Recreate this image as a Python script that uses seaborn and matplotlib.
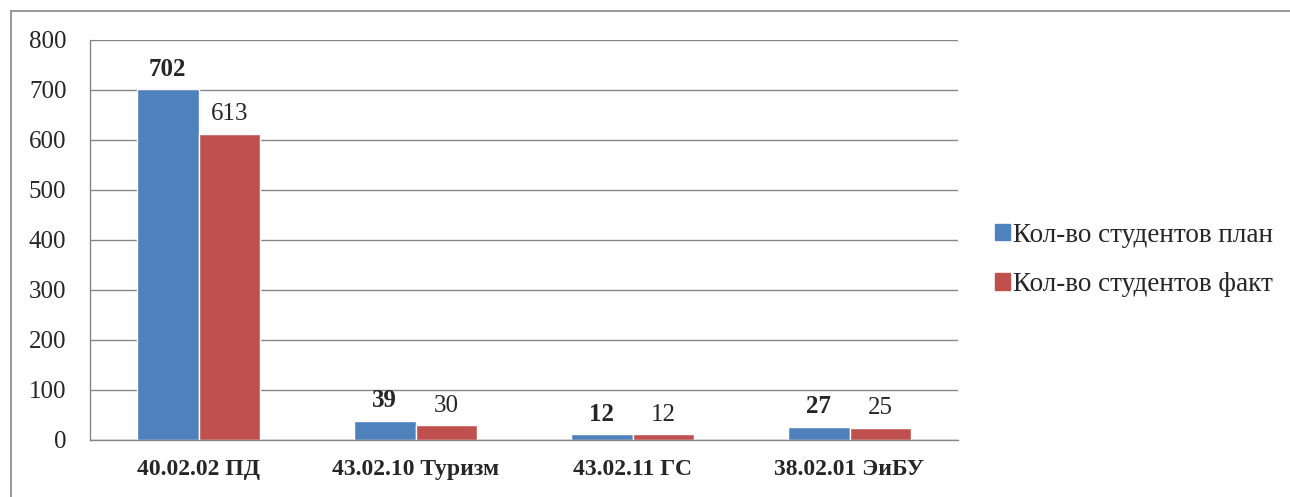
import matplotlib
matplotlib.use("Agg")
import matplotlib.pyplot as plt
import seaborn as sns
import pandas as pd
from matplotlib.patches import Rectangle
from matplotlib.lines import Line2D

# ----------------- DATA -----------------
categories = ["40.02.02 ПД", "43.02.10 Туризм", "43.02.11 ГС", "38.02.01 ЭиБУ"]
plan = [702, 39, 12, 27]
fact = [613, 30, 12, 25]
series = ["Кол-во студентов план", "Кол-во студентов факт"]

df = pd.DataFrame({
    "cat": categories * 2,
    "value": plan + fact,
    "series": [series[0]] * len(plan) + [series[1]] * len(fact),
})

# ----------------- STYLE -----------------
sns.set_style("white")
plt.rcParams["font.family"] = ["Liberation Serif", "DejaVu Serif"]
colors = ["#4F81BD", "#C0504D"]
grid_col = "#868686"

fig = plt.figure(figsize=(12.9, 4.97), dpi=100)
ax = fig.add_axes([90 / 1290, 1 - 440 / 497, (958 - 90) / 1290, 400 / 497])

sns.barplot(data=df, x="cat", y="value", hue="series", palette=colors,
            width=0.567, saturation=1, ax=ax, legend=False)

ax.set_ylim(0, 800)
ax.set_xlim(-0.5, len(categories) - 0.5)
ax.set_yticks(range(0, 801, 100))
ax.yaxis.grid(True, color=grid_col, linewidth=1)
ax.set_axisbelow(True)
ax.set_xlabel("")
ax.set_ylabel("")

for s in ["top", "right"]:
    ax.spines[s].set_visible(False)
for s in ["left", "bottom"]:
    ax.spines[s].set_color(grid_col)
    ax.spines[s].set_linewidth(1)

ax.tick_params(axis="y", length=6, color=grid_col, labelsize=18, pad=11)
ax.set_xticks([i - 0.5 for i in range(len(categories) + 1)], minor=True)
ax.tick_params(axis="x", which="minor", length=6, color=grid_col)
ax.tick_params(axis="x", which="major", length=0, labelsize=17, pad=14)
for lbl in ax.get_xticklabels():
    lbl.set_fontweight("bold")

# value labels
for i, cont in enumerate(ax.containers):
    ax.bar_label(cont, padding=6, fontsize=18,
                 fontweight="bold" if i == 0 else "normal")

# legend
handles = [Rectangle((0, 0), 1, 1, color=c) for c in colors]
fig.legend(handles, series, loc="center left", bbox_to_anchor=(995 / 1290, 1 - 260 / 497),
           frameon=False, fontsize=19.5, handlelength=0.55, handleheight=0.55,
           handletextpad=0.12, labelspacing=0.9, borderaxespad=0, borderpad=0)

# outer frame (cropped at right and bottom)
fig.add_artist(Line2D([11 / 1290, 11 / 1290], [0, 1 - 11 / 497], transform=fig.transFigure,
                      color=grid_col, linewidth=1.2))
fig.add_artist(Line2D([11 / 1290, 1], [1 - 11 / 497, 1 - 11 / 497], transform=fig.transFigure,
                      color=grid_col, linewidth=1.2))

fig.savefig("out.png", dpi=100)
